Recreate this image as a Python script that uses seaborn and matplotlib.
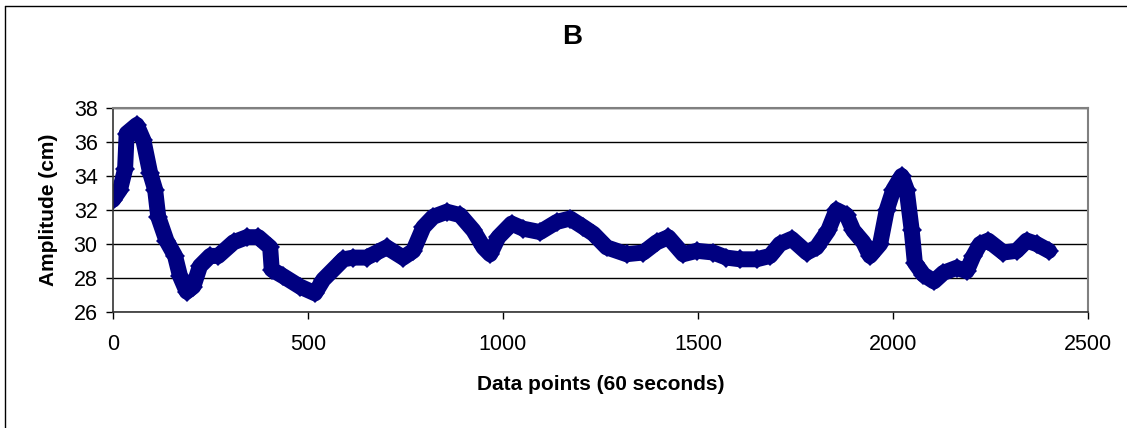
import matplotlib
matplotlib.use("Agg")
import matplotlib.pyplot as plt
from matplotlib.lines import Line2D
import seaborn as sns
import pandas as pd

# ----- data -----
data_points = [
    0, 18, 31, 35, 61, 78, 95, 108, 116, 137,
    159, 172, 189, 206, 223, 249, 270, 309, 343, 373,
    403, 407, 437, 479, 518, 539, 591, 616, 650, 676,
    702, 744, 770, 796, 821, 856, 890, 924, 950, 967,
    988, 1022, 1052, 1095, 1138, 1172, 1206, 1232, 1266, 1317,
    1360, 1394, 1424, 1462, 1497, 1539, 1573, 1608, 1650, 1685,
    1710, 1740, 1779, 1804, 1834, 1855, 1881, 1898, 1924, 1941,
    1967, 1984, 2001, 2022, 2035, 2048, 2056, 2078, 2105, 2129,
    2163, 2189, 2206, 2223, 2244, 2283, 2317, 2343, 2368, 2400,
]
amplitude = [
    32.6, 33.2, 34.4, 36.5, 37.0, 36.1, 34.2, 33.2, 31.6, 30.2,
    29.3, 28.1, 27.2, 27.5, 28.7, 29.3, 29.3, 30.1, 30.4, 30.4,
    29.8, 28.5, 28.1, 27.5, 27.1, 27.9, 29.1, 29.2, 29.2, 29.5,
    29.8, 29.2, 29.6, 31.0, 31.6, 31.9, 31.7, 30.8, 29.8, 29.4,
    30.4, 31.2, 30.9, 30.7, 31.3, 31.5, 31.0, 30.6, 29.8, 29.4,
    29.5, 30.1, 30.4, 29.4, 29.6, 29.5, 29.2, 29.1, 29.1, 29.3,
    30.0, 30.3, 29.5, 29.8, 30.8, 32.0, 31.7, 30.8, 30.1, 29.3,
    30.0, 32.0, 33.2, 34.0, 33.2, 30.8, 28.9, 28.2, 27.8, 28.3,
    28.6, 28.4, 29.3, 30.0, 30.2, 29.5, 29.6, 30.2, 30.0, 29.6,
]
x_ticks = [0, 500, 1000, 1500, 2000, 2500]
y_ticks = [26, 28, 30, 32, 34, 36, 38]

df = pd.DataFrame({"x": data_points, "amp": amplitude})

sns.set_style("white")
plt.rcParams["font.family"] = ["Liberation Sans", "DejaVu Sans"]
plt.rcParams["text.color"] = "black"
plt.rcParams["axes.labelcolor"] = "black"
plt.rcParams["xtick.color"] = "black"
plt.rcParams["ytick.color"] = "black"

fig = plt.figure(figsize=(11.27, 4.28), dpi=100)
ax = fig.add_axes([113 / 1127, 1 - 312 / 428, 975 / 1127, 204 / 428])

# horizontal gridlines (black, Excel style)
ax.set_axisbelow(True)
ax.yaxis.grid(True, color="black", linewidth=1)
ax.xaxis.grid(False)

sns.lineplot(
    data=df, x="x", y="amp", ax=ax,
    color="#000080", linewidth=11.5, marker="D", markersize=10,
    markeredgewidth=0, solid_joinstyle="round", solid_capstyle="round",
)

ax.set_xlim(0, 2500)
ax.set_ylim(26, 38)
ax.set_xticks(x_ticks)
ax.set_yticks(y_ticks)
ax.tick_params(axis="both", labelsize=15.5, length=5, width=1, direction="out", color="black")
ax.tick_params(axis="x", pad=11, bottom=True)
ax.tick_params(axis="y", pad=6, left=True)

for side in ["top", "right"]:
    ax.spines[side].set_color("#808080")
    ax.spines[side].set_linewidth(1.5)
for side in ["left", "bottom"]:
    ax.spines[side].set_color("#333333")
    ax.spines[side].set_linewidth(1.2)

ax.set_xlabel("Data points (60 seconds)", fontsize=15, fontweight="bold", labelpad=14)
ax.set_ylabel("Amplitude (cm)", fontsize=15, fontweight="bold", labelpad=11)
fig.text(572 / 1127, 1 - 37 / 428, "B", fontsize=20, fontweight="bold",
         ha="center", va="center")

# outer chart border (only left and top edges visible in the picture)
fig.add_artist(Line2D([5 / 1127, 5 / 1127], [1 - 6 / 428, 0], color="black", lw=1))
fig.add_artist(Line2D([5 / 1127, 1], [1 - 6 / 428, 1 - 6 / 428], color="black", lw=1))

fig.savefig("out.png", dpi=100)
